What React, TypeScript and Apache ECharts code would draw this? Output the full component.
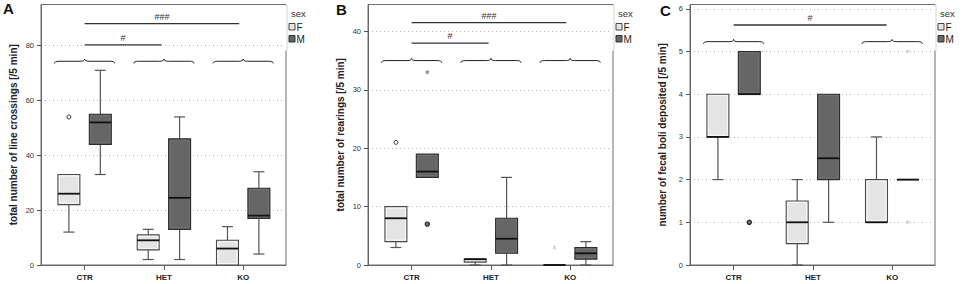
import React, { useEffect, useRef } from 'react';
import * as echarts from 'echarts';

const FONT = '"Liberation Sans", Arial, Helvetica, sans-serif';

// ---------- data ----------
const categories = ['CTR', 'HET', 'KO'];
const panelLetters = ['A', 'B', 'C'];
const yTitles = [
  'total number of line crossings [/5 min]',
  'total number of rearings [/5 min]',
  'number of fecal boli deposited [/5 min]',
];
const yMaxes = [95, 44.6, 6.1];
const yIntervals = [20, 10, 1];
const yTicksA = [0, 20, 40, 60, 80];
const yTicksB = [0, 10, 20, 30, 40];
const yTicksC = [0, 1, 2, 3, 4, 5, 6];

// [min, Q1, median, Q3, max] for CTR, HET, KO
const crossingsF = [[12, 22, 26, 33, 33], [2, 5.5, 9, 11, 13], [0, 0, 6, 9, 14]];
const crossingsM = [[33, 44, 52, 55, 71], [2, 13, 24.5, 46, 54], [4, 17, 18, 28, 34]];
const rearingsF = [[3, 4, 8, 10, 10], [0, 0.5, 1, 1, 1], [0, 0, 0, 0, 0]];
const rearingsM = [[15, 15, 16, 19, 19], [0, 2, 4.5, 8, 15], [0, 1, 2, 3, 4]];
const boliF = [[2, 3, 3, 4, 4], [0, 0.5, 1, 1.5, 2], [1, 1, 1, 2, 3]];
const boliM = [[4, 4, 4, 5, 5], [1, 2, 2.5, 4, 4], [2, 2, 2, 2, 2]];

// outliers: [category index, sex, value, kind]
const crossingsOutliers: any[] = [[0, 'F', 54, 'circle']];
const rearingsOutliers: any[] = [
  [0, 'F', 21, 'circle'],
  [0, 'M', 7, 'filled'],
  [0, 'M', 33, 'star'],
  [2, 'F', 3, 'faint'],
];
const boliOutliers: any[] = [
  [0, 'M', 1, 'filled'],
  [2, 'M', 5, 'faint'],
  [2, 'M', 1, 'faint'],
];

// significance bars: [from x, to x, y, label]
const crossingsSig: any[] = [[0, 0.97, 80.3, '#'], [0, 1.95, 88, '###']];
const rearingsSig: any[] = [[0, 0.97, 38, '#'], [0, 1.95, 41.5, '###']];
const boliSig: any[] = [[0, 1.93, 5.62, '#']];

// braces: [category index, y]
const crossingsBraces = [[0, 74.3], [1, 74.3], [2, 74.3]];
const rearingsBraces = [[0, 35], [1, 35], [2, 35]];
const boliBraces = [[0, 5.23], [2, 5.23]];

const panels = [
  { F: crossingsF, M: crossingsM, out: crossingsOutliers, sig: crossingsSig, braces: crossingsBraces, ticks: yTicksA },
  { F: rearingsF, M: rearingsM, out: rearingsOutliers, sig: rearingsSig, braces: rearingsBraces, ticks: yTicksB },
  { F: boliF, M: boliM, out: boliOutliers, sig: boliSig, braces: boliBraces, ticks: yTicksC },
];

// ---------- layout ----------
const GRID_LEFTS = [41, 368, 690];
const GRID_TOP = 4.5;
const GRID_H = 260.5;
const GRID_W = 245;
const X_MIN = -0.55;
const X_MAX = 2.54;
const DODGE = 0.198;
const BOX_W = 0.277;
const BRACE_HALF = 0.38;

const BOX_STYLES = [
  { fill: '#e4e4e4', stroke: '#4a4a4a', inner: '#f8f8f8' },
  { fill: '#666666', stroke: '#2c2c2c', inner: '#727272' },
];

function boxRender(sexIdx: number) {
  return (params: any, api: any) => {
    const cxVal = api.value(0) + (sexIdx === 0 ? -DODGE : DODGE);
    const half = api.size([BOX_W, 0])[0] / 2;
    const x = api.coord([cxVal, 0])[0];
    const y = (v: number) => api.coord([cxVal, v])[1];
    const yMin = y(api.value(1));
    const yQ1 = y(api.value(2));
    const yMed = y(api.value(3));
    const yQ3 = y(api.value(4));
    const yMax = y(api.value(5));
    const st = BOX_STYLES[sexIdx];
    const wStyle = { stroke: '#555', lineWidth: 1.2 };
    const children: any[] = [];
    if (yMax < yQ3 - 0.5) {
      children.push({ type: 'line', shape: { x1: x, y1: yMax, x2: x, y2: yQ3 }, style: wStyle });
      children.push({ type: 'line', shape: { x1: x - half / 2, y1: yMax, x2: x + half / 2, y2: yMax }, style: wStyle });
    }
    if (yMin > yQ1 + 0.5) {
      children.push({ type: 'line', shape: { x1: x, y1: yQ1, x2: x, y2: yMin }, style: wStyle });
      children.push({ type: 'line', shape: { x1: x - half / 2, y1: yMin, x2: x + half / 2, y2: yMin }, style: wStyle });
    }
    const h = yQ1 - yQ3;
    children.push({
      type: 'rect',
      shape: { x: x - half, y: yQ3, width: half * 2, height: h },
      style: { fill: st.fill, stroke: st.stroke, lineWidth: 1.1 },
    });
    if (h > 4) {
      children.push({
        type: 'rect',
        shape: { x: x - half + 1.5, y: yQ3 + 1.5, width: half * 2 - 3, height: h - 3 },
        style: { fill: 'none', stroke: st.inner, lineWidth: 1 },
      });
    }
    children.push({
      type: 'line',
      shape: { x1: x - half, y1: yMed, x2: x + half, y2: yMed },
      style: { stroke: '#111', lineWidth: 1.8 },
    });
    return { type: 'group', children };
  };
}

function outlierRender(list: any[]) {
  return (params: any, api: any) => {
    const p = api.coord([api.value(0), api.value(1)]);
    const kind = list[params.dataIndex][3];
    if (kind === 'circle') {
      return { type: 'circle', shape: { cx: p[0], cy: p[1], r: 2 }, style: { fill: '#fff', stroke: '#333', lineWidth: 1 } };
    }
    if (kind === 'filled') {
      return { type: 'circle', shape: { cx: p[0], cy: p[1], r: 2.1 }, style: { fill: '#777', stroke: '#222', lineWidth: 1.2 } };
    }
    const color = kind === 'star' ? '#777' : '#cfcfcf';
    const r = 2.2;
    const lines = [0, 60, 120].map((deg) => {
      const a = (deg * Math.PI) / 180;
      return {
        type: 'line',
        shape: { x1: p[0] - r * Math.sin(a), y1: p[1] - r * Math.cos(a), x2: p[0] + r * Math.sin(a), y2: p[1] + r * Math.cos(a) },
        style: { stroke: color, lineWidth: 0.9 },
      };
    });
    return { type: 'group', children: lines };
  };
}

function sigRender(list: any[]) {
  return (params: any, api: any) => {
    const p1 = api.coord([api.value(0), api.value(2)]);
    const p2 = api.coord([api.value(1), api.value(2)]);
    return {
      type: 'group',
      children: [
        { type: 'line', shape: { x1: p1[0], y1: p1[1], x2: p2[0], y2: p2[1] }, style: { stroke: '#333', lineWidth: 1.3 } },
        {
          type: 'text',
          x: (p1[0] + p2[0]) / 2,
          y: p1[1] - 2.5,
          style: { text: list[params.dataIndex][3], align: 'center', verticalAlign: 'bottom', fontSize: 9, fill: '#333', fontFamily: FONT },
        },
      ],
    };
  };
}

function braceRender() {
  return (params: any, api: any) => {
    const c = api.coord([api.value(0), api.value(1)]);
    const hw = api.size([BRACE_HALF, 0])[0];
    const L = c[0] - hw;
    const R = c[0] + hw;
    const C = c[0];
    const Y = c[1];
    const h = 2.2;
    const q = 4.5;
    const d =
      `M${L},${Y + h} Q${L},${Y} ${L + q},${Y} L${C - q},${Y} Q${C},${Y} ${C},${Y - h}` +
      ` Q${C},${Y} ${C + q},${Y} L${R - q},${Y} Q${R},${Y} ${R},${Y + h}`;
    return { type: 'path', shape: { pathData: d }, style: { stroke: '#222', fill: 'none', lineWidth: 1 } };
  };
}

function buildOption() {
  const grid: any[] = [];
  const xAxis: any[] = [];
  const yAxis: any[] = [];
  const series: any[] = [];
  const graphic: any[] = [];

  panels.forEach((pn, i) => {
    grid.push({
      left: GRID_LEFTS[i],
      top: GRID_TOP,
      width: GRID_W,
      height: GRID_H,
      show: true,
      borderColor: '#6e6e6e',
      borderWidth: 1,
      backgroundColor: 'transparent',
    });
    xAxis.push({
      gridIndex: i,
      type: 'value',
      min: X_MIN,
      max: X_MAX,
      splitLine: { show: false },
      axisLine: { show: true, onZero: false, lineStyle: { color: '#666' } },
      axisTick: { show: true, length: 5, customValues: [0, 1, 2], lineStyle: { color: '#555' } },
      axisLabel: {
        customValues: [0, 1, 2],
        formatter: (v: number) => categories[Math.round(v)],
        fontSize: 8,
        fontWeight: 'bold',
        color: '#222',
        margin: 8,
        fontFamily: FONT,
      },
    });
    yAxis.push({
      gridIndex: i,
      type: 'value',
      min: 0,
      max: yMaxes[i],
      interval: yIntervals[i],
      name: yTitles[i],
      nameLocation: 'middle',
      nameGap: 23,
      nameTextStyle: { fontSize: 10, fontWeight: 'bold', color: '#222', fontFamily: FONT },
      axisLine: { show: true, onZero: false, lineStyle: { color: '#666' } },
      axisTick: { show: true, length: 4, customValues: pn.ticks, lineStyle: { color: '#555' } },
      axisLabel: { customValues: pn.ticks, fontSize: 7.5, color: '#333', margin: 7, fontFamily: FONT },
      splitLine: { show: true, lineStyle: { color: '#b5b5b5', type: [1, 3], width: 1 } },
    });

    [pn.F, pn.M].forEach((arr, s) => {
      series.push({
        type: 'custom',
        name: s === 0 ? 'F' : 'M',
        xAxisIndex: i,
        yAxisIndex: i,
        data: arr.map((d, k) => [k, ...d]),
        encode: { x: 0, y: [1, 2, 3, 4, 5] },
        renderItem: boxRender(s),
        z: 3,
      });
    });
    series.push({
      type: 'custom',
      xAxisIndex: i,
      yAxisIndex: i,
      data: pn.out.map((o: any) => [o[0] + (o[1] === 'F' ? -DODGE : DODGE), o[2]]),
      encode: { x: 0, y: 1 },
      renderItem: outlierRender(pn.out),
      z: 4,
    });
    series.push({
      type: 'custom',
      xAxisIndex: i,
      yAxisIndex: i,
      data: pn.sig.map((s: any) => [s[0], s[1], s[2]]),
      encode: { x: [0, 1], y: 2 },
      renderItem: sigRender(pn.sig),
      z: 4,
    });
    series.push({
      type: 'custom',
      xAxisIndex: i,
      yAxisIndex: i,
      data: pn.braces,
      encode: { x: 0, y: 1 },
      renderItem: braceRender(),
      z: 4,
    });

    const R = GRID_LEFTS[i] + GRID_W;
    graphic.push({ type: 'rect', shape: { x: R - 1.5, y: GRID_TOP + 1, width: 30, height: 45 }, style: { fill: '#fff' }, z: 10 });
    graphic.push({ type: 'line', shape: { x1: R + 1, y1: GRID_TOP + 1, x2: R + 1, y2: GRID_TOP + 46 }, style: { stroke: '#d4d4d4', lineWidth: 1 }, z: 10 });
    graphic.push({ type: 'text', x: R + 5, y: 13, style: { text: 'sex', fontSize: 9.5, fill: '#333', fontFamily: FONT, verticalAlign: 'middle' }, z: 11 });
    graphic.push({ type: 'rect', shape: { x: R + 3, y: 23.5, width: 6, height: 6.5 }, style: { fill: BOX_STYLES[0].fill, stroke: '#444', lineWidth: 1 }, z: 11 });
    graphic.push({ type: 'text', x: R + 10.5, y: 27, style: { text: 'F', fontSize: 10, fill: '#222', fontFamily: FONT, verticalAlign: 'middle' }, z: 11 });
    graphic.push({ type: 'rect', shape: { x: R + 3, y: 35.5, width: 6, height: 6.5 }, style: { fill: BOX_STYLES[1].fill, stroke: '#333', lineWidth: 1 }, z: 11 });
    graphic.push({ type: 'text', x: R + 10.5, y: 39, style: { text: 'M', fontSize: 10, fill: '#222', fontFamily: FONT, verticalAlign: 'middle' }, z: 11 });
  });

  const letterPos = [[3, 1], [336, 1.5], [660, 2.5]];
  panelLetters.forEach((t, i) => {
    graphic.push({
      type: 'text',
      x: letterPos[i][0],
      y: letterPos[i][1],
      style: { text: t, fontSize: 15, fontWeight: 'bold', fill: '#111', fontFamily: FONT, verticalAlign: 'top' },
      z: 11,
    });
  });

  return {
    animation: false,
    backgroundColor: '#fff',
    textStyle: { fontFamily: FONT },
    grid,
    xAxis,
    yAxis,
    series,
    graphic,
  };
}

export default function App() {
  const ref = useRef<HTMLDivElement>(null);
  useEffect(() => {
    if (!ref.current) return;
    const chart = echarts.init(ref.current, undefined, { renderer: 'svg' });
    chart.setOption(buildOption() as any);
    return () => chart.dispose();
  }, []);
  return <div ref={ref} style={{ position: 'absolute', left: 0, top: 0, width: 964, height: 284 }} />;
}
